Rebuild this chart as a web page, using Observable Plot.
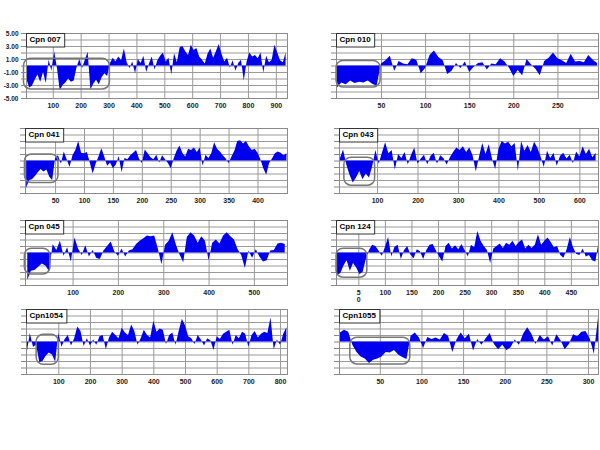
<!DOCTYPE html>
<html><head><meta charset="utf-8">
<script src="https://cdn.jsdelivr.net/npm/d3@7"></script>
<script src="https://cdn.jsdelivr.net/npm/@observablehq/plot@0.6"></script>
<style>
html,body{margin:0;padding:0;background:#fff;overflow:hidden;}
#root{position:relative;width:600px;height:450px;overflow:hidden;font-family:"Liberation Sans",Arial,sans-serif;}
#root svg{position:absolute;overflow:visible;}
</style></head><body><div id="root"></div>
<script>
// ---- data ----
const names = ["Cpn 007","Cpn 010","Cpn 041","Cpn 043","Cpn 045","Cpn 124","Cpn1054","Cpn1055"];

const cpn007 = [-2.0,-3.4,-3.1,-2.2,-1.4,-2.5,-1.0,-2.7,0.9,-0.8,
 2.2,-0.4,-3.8,-3.0,-2.6,-2.0,-2.5,-2.3,-0.3,1.0,
 -0.4,0.9,2.1,-3.7,-2.8,-2.2,-2.9,-1.8,-1.2,-1.6,
 0.4,1.2,0.6,1.4,0.8,2.6,0.5,-0.4,0.6,-1.2,
 1.0,0.4,1.5,-1.0,0.3,1.4,-0.6,0.8,1.5,2.0,
 0.6,1.2,-1.4,1.9,0.5,2.8,3.0,2.2,1.6,3.2,
 2.4,2.7,1.4,0.9,0.3,1.8,2.6,1.2,2.2,3.3,
 1.8,0.6,1.2,-0.3,0.8,-0.8,0.4,0.9,-2.3,0.6,
 2.0,1.4,1.6,1.1,2.0,-1.1,1.5,0.5,0.9,3.2,
 2.0,0.8,0.5,2.0];
const cpn010 = [-3.4,-2.6,-2.9,-2.3,-2.7,-2.5,-2.6,-2.3,-2.8,-3.1,
 0.3,0.8,1.5,-0.8,0.7,0.3,0.2,1.1,0.9,-1.2,
 -0.4,1.6,2.3,1.3,0.8,-1.3,-0.8,0.4,-0.4,0.6,
 -1.0,-0.2,0.4,0.5,-0.6,0.3,0.2,1.1,0.6,-0.3,
 -1.6,-0.7,-1.5,1.0,0.2,-0.5,-1.5,0.7,1.2,2.0,
 1.1,0.8,0.4,1.8,0.6,0.7,0.5,1.6,0.9,0.4];
const cpn041 = [-4.2,-3.0,-2.9,-2.4,-1.8,-1.3,-1.7,-1.4,-2.5,-3.0,
 0.4,0.8,-0.5,1.4,0.2,-1.0,0.8,1.6,3.0,1.2,
 1.1,1.3,-0.3,-2.0,-0.5,0.6,1.9,0.6,-0.8,-0.3,
 -1.2,-0.6,0.7,-1.8,0.4,0.2,0.8,1.2,1.6,0.3,
 -0.4,1.7,1.1,0.5,0.2,0.9,-0.3,0.8,0.2,-0.4,
 -1.2,0.3,1.5,2.3,1.2,0.6,1.8,1.6,2.0,1.3,
 2.0,-0.8,0.9,0.4,1.1,2.8,1.8,1.4,0.8,0.3,
 -0.4,0.6,1.5,3.0,3.1,2.6,3.0,2.2,1.6,1.8,
 1.2,0.2,-1.2,-2.2,-0.4,0.3,1.1,1.4,1.2,0.8,
 1.1];
const cpn043 = [0.3,1.7,-0.6,-2.2,-3.4,-2.6,-1.6,-2.9,-2.0,-2.6,
 -0.9,1.6,-0.5,1.2,2.8,1.1,1.6,-1.4,1.0,0.4,
 1.3,-0.6,0.9,2.0,-0.5,0.3,0.9,-0.6,0.7,1.2,
 -0.5,0.8,0.4,-0.6,0.5,1.3,2.0,1.6,2.2,1.3,
 2.0,0.8,-1.7,0.6,2.7,1.0,2.5,0.3,-1.3,1.8,
 3.0,2.6,2.9,2.2,2.7,-1.6,3.0,1.5,2.4,1.3,
 2.9,2.0,0.6,-1.0,1.5,0.4,1.2,-0.8,0.7,1.2,
 0.3,0.9,-0.4,1.4,0.6,2.2,1.0,1.8,0.5,1.2];
const cpn045 = [-4.2,-2.8,-2.7,-2.2,-1.7,-2.0,-2.9,1.3,0.4,1.8,
 -0.5,0.8,-1.4,2.3,0.6,-0.4,1.1,-0.6,0.4,-0.8,
 -1.0,0.3,1.0,1.7,0.2,-0.5,0.6,-0.6,0.3,0.5,
 1.3,1.8,2.2,2.6,2.5,2.6,0.6,-1.8,1.2,1.8,
 3.1,1.2,-0.3,-1.5,2.4,3.1,2.6,1.5,2.5,1.8,
 -1.2,1.5,2.0,1.4,2.6,3.1,2.5,2.0,0.5,-0.4,
 -2.4,0.3,-0.8,0.5,-0.6,-1.4,-1.2,0.3,0.4,1.4,
 1.5,1.3];
const cpn124 = [-3.4,-3.2,-2.0,-1.2,-2.8,-1.6,-2.3,-3.3,-3.0,-1.0,
 0.4,1.2,1.0,0.3,-0.5,0.8,2.4,-0.6,0.9,1.2,
 -1.0,0.4,1.0,-0.3,-0.9,0.5,0.2,-1.0,0.4,1.2,
 1.3,0.3,-0.6,-1.4,1.0,1.5,0.6,1.1,0.5,1.3,
 0.4,-0.6,1.2,0.8,3.3,1.8,1.0,0.4,-1.6,0.6,
 1.0,1.4,0.7,1.5,1.2,1.8,1.0,1.6,2.0,0.6,
 1.2,0.7,1.2,2.8,1.2,1.8,2.3,1.6,0.8,1.0,
 -0.4,-0.8,0.5,2.4,0.8,-0.2,-0.4,0.6,-0.6,-0.4,
 -1.2,-1.4,1.6];
const cpn1054 = [-1.8,1.3,-0.8,-0.5,-3.2,-3.0,-2.2,-1.7,-2.0,-3.1,
 1.3,-0.8,0.4,1.0,-0.6,0.5,2.3,1.6,-0.7,0.5,
 -0.6,0.3,-0.5,0.8,1.0,-1.2,0.6,1.5,1.0,0.5,
 2.1,1.4,1.0,2.6,1.6,-0.5,0.5,1.8,1.0,0.6,
 3.2,1.5,2.0,1.8,-0.4,1.0,1.4,-0.5,1.6,3.5,
 2.5,0.8,0.5,-0.4,1.0,0.3,-0.6,0.5,0.2,-1.3,
 0.8,0.4,1.2,1.5,1.8,-0.5,1.0,0.5,1.5,1.2,
 -0.8,1.0,1.6,0.6,1.2,1.5,1.3,3.7,-1.2,0.3,
 -0.5,1.2,2.2];
const cpn1055 = [1.4,1.8,1.5,-0.5,-1.6,-2.3,-2.6,-3.3,-2.8,-2.6,
 -2.3,-1.6,-1.7,-1.3,-2.0,-2.4,-2.7,0.9,1.4,0.6,
 -1.0,0.7,0.4,0.6,0.3,1.3,0.9,-1.6,0.3,1.4,
 0.5,1.2,-1.4,0.4,-0.5,0.5,1.3,-0.4,-1.2,-0.5,
 -1.3,-0.9,0.3,-0.5,1.2,2.2,1.2,-0.4,1.0,0.3,
 0.8,-0.6,1.1,0.2,-1.2,-0.4,1.1,0.8,1.5,1.6,
 0.5,-1.9,3.7];

const seriesValues = [cpn007,cpn010,cpn041,cpn043,cpn045,cpn124,cpn1054,cpn1055];
// first residue and residue spacing of each series
const starts = [5,0,0,8,0,10,0,2];
const steps  = [10,5,5,8,8,6,10,5];
const xDomains = [[4,940],[-1,296],[-2,451],[6,646],[-5,573],[8,501],[-2,822],[1,312]];
const xTicks = [
  [100,200,300,400,500,600,700,800,900],
  [50,100,150,200,250],
  [50,100,150,200,250,300,350,400],
  [100,200,300,400,500,600],
  [100,200,300,400,500],
  [50,100,150,200,250,300,350,400,450],
  [100,200,300,400,500,600,700,800],
  [50,100,150,200,250,300]
];
const yTicks = [-5,-4,-3,-2,-1,0,1,2,3,4,5];
// signal-peptide regions: [start residue, end residue, upper value, lower value]
const signalRegions = [
  [-5,303,1.1,-3.6],[-1,49,0.77,-3.3],[-3,55,1.0,-3.4],[18,94,0.5,-3.8],
  [-6.5,50,0.65,-3.3],[8,66,0.65,-3.8],[30,100,1.1,-3.5],[14,86,0.65,-3.45]
];

// ---- layout ----
const layout = [
  {left:26,right:287,top:33},{left:336,right:598,top:33},
  {left:25,right:287,top:128},{left:339,right:598,top:128},
  {left:25,right:287,top:220},{left:336,right:598,top:220},
  {left:26,right:287,top:309},{left:339,right:598,top:309}
];
const ML=28, MR=4, MT=2, MB=22, PH=65;
const FONT = "'Liberation Sans', Arial, Helvetica, sans-serif";
const root = document.getElementById("root");

for (let i=0;i<8;i++){
  const L = layout[i];
  const data = seriesValues[i].map((v,j)=>({residue: starts[i]+j*steps[i], value: v}));
  const sig = signalRegions[i];
  const chart = Plot.plot({
    width: L.right-L.left+ML+MR,
    height: PH+MT+MB,
    marginLeft: ML, marginRight: MR, marginTop: MT, marginBottom: MB,
    style: {background:"transparent", fontFamily: FONT, overflow:"visible", color:"#222"},
    x: {domain: xDomains[i], label: null},
    y: {domain: [-5,5], label: null},
    marks: [
      Plot.gridY(yTicks, {stroke:"#9a9a9a", strokeOpacity:1}),
      Plot.gridX(xTicks[i], {stroke:"#9a9a9a", strokeOpacity:1}),
      Plot.areaY(data, {x:"residue", y:"value", fill:"#0000ee", clip:true}),
      Plot.frame({stroke:"#8a8a8a"}),
      Plot.rect([sig], {x1:d=>d[0], x2:d=>d[1], y1:d=>d[2], y2:d=>d[3], rx:7, fill:"none", stroke:"#777", strokeWidth:1.5}),
      Plot.axisY(yTicks, {label:null, tickSize:5, tickPadding:3, stroke:"#888", fill:"#222", fontSize:6.5, fontWeight:"bold",
        tickFormat: d => (i===0 && Math.abs(d)%2===1) ? d.toFixed(2) : ""}),
      Plot.axisX(xTicks[i], {label:null, tickSize:0, tickPadding:5, fill:"#222", fontSize:7, fontWeight:"bold",
        tickFormat: d => (i===5 && d===50) ? "5\n0" : String(d)}),
      Plot.text([names[i]], {text:d=>d, frameAnchor:"top-left", dx:3, dy:3, lineAnchor:"top", textAnchor:"start",
        fontSize:8, fontWeight:"bold", fill:"#000"})
    ]
  });
  chart.style.position = "absolute";
  chart.style.left = (L.left-ML)+"px";
  chart.style.top = (L.top-MT)+"px";
  root.appendChild(chart);
  // white box behind the title
  const svg = d3.select(chart);
  const tnode = svg.select('g[aria-label="text"] text').node();
  if (tnode){
    const tb = tnode.getBoundingClientRect();
    const sb = chart.getBoundingClientRect();
    svg.insert("rect", 'g[aria-label="text"]')
      .attr("x", ML+0.5).attr("y", MT+0.5)
      .attr("width", tb.right - sb.left + 3 - ML)
      .attr("height", 13.5)
      .attr("fill", "#fff").attr("stroke", "#333").attr("stroke-width", 1);
  }
}
</script>
</body></html>
